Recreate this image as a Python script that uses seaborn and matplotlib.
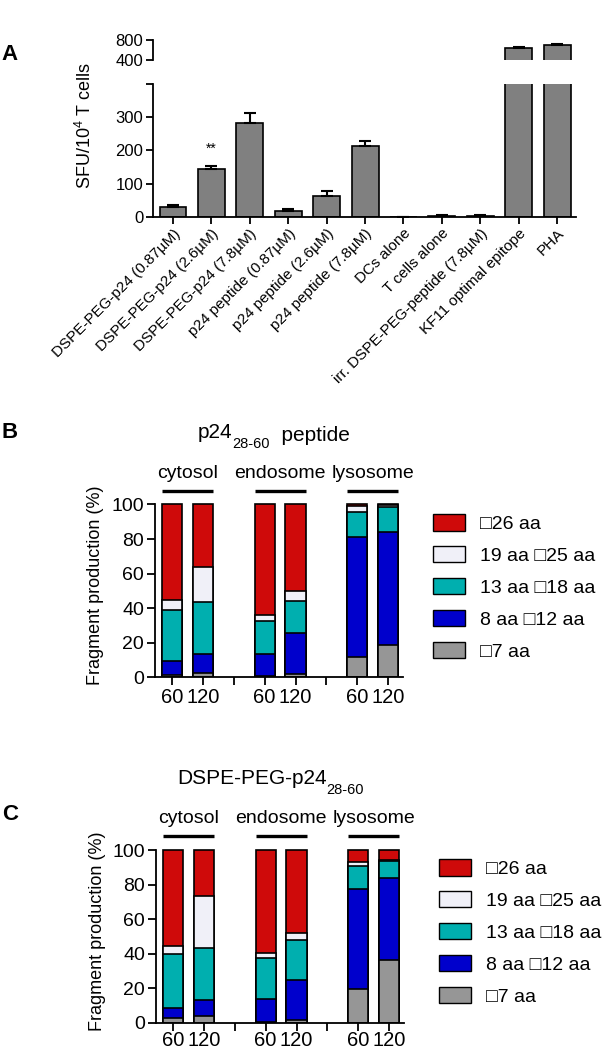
import numpy as np
import pandas as pd
import matplotlib
matplotlib.use("Agg")
import matplotlib.pyplot as plt
import matplotlib.transforms as mtransforms
from matplotlib.patches import Patch
import seaborn as sns

# ---- panel A: IFN-g ELISpot ----
conditions = ["DSPE-PEG-p24 (0.87µM)", "DSPE-PEG-p24 (2.6µM)", "DSPE-PEG-p24 (7.8µM)",
              "p24 peptide (0.87µM)", "p24 peptide (2.6µM)", "p24 peptide (7.8µM)",
              "DCs alone", "T cells alone", "irr. DSPE-PEG-peptide (7.8µM)",
              "KF11 optimal epitope", "PHA"]
sfu_mean = [30, 144, 283, 18, 61, 212, 0, 1, 1, 645, 695]
sfu_sem = [4, 10, 30, 5, 16, 17, 0, 3, 3, 25, 18]

# ---- panels B and C: fragment production ----
compartments = ["cytosol", "endosome", "lysosome"]
time_points = ["60", "120", "60", "120", "60", "120"]
bar_pos = [0, 1, 3, 4, 6, 7]

fragment_labels = ["\u25a126 aa", "19 aa \u25a125 aa", "13 aa \u25a118 aa", "8 aa \u25a112 aa", "\u25a17 aa"]
fragment_colors = ["#CF0A0A", "#F0F0F8", "#00AFAF", "#0000CC", "#969696"]

# p24 28-60 peptide (%), bars: cyt60, cyt120, endo60, endo120, lyso60, lyso120
pep_ge26 = [55.3, 36.1, 63.9, 50.0, 0.9, 0.6]
pep_19_25 = [5.6, 20.6, 3.3, 5.7, 3.7, 0.9]
pep_13_18 = [29.8, 29.6, 19.6, 18.5, 14.3, 14.3]
pep_8_12 = [7.8, 11.0, 12.2, 23.9, 69.3, 65.3]
pep_le7 = [1.5, 2.7, 1.0, 1.9, 11.8, 18.9]

# DSPE-PEG-p24 28-60 (%)
lip_ge26 = [55.4, 26.4, 59.9, 48.2, 6.7, 5.8]
lip_19_25 = [4.8, 30.4, 2.8, 4.0, 2.3, 0.5]
lip_13_18 = [31.0, 29.8, 23.5, 22.9, 13.4, 9.7]
lip_8_12 = [6.3, 9.7, 13.4, 23.4, 57.9, 47.6]
lip_le7 = [2.5, 3.7, 0.4, 1.5, 19.7, 36.4]

W, H = 603, 1050
def fx(x):
    return x / W
def fy(y):
    return 1 - y / H

sns.set_style("ticks")
plt.rcParams['font.family'] = ['Liberation Sans', 'DejaVu Sans']
plt.rcParams['axes.linewidth'] = 1.3
plt.rcParams['xtick.major.width'] = 1.3
plt.rcParams['ytick.major.width'] = 1.3
plt.rcParams['xtick.color'] = 'black'
plt.rcParams['ytick.color'] = 'black'
plt.rcParams['axes.edgecolor'] = 'black'
plt.rcParams['text.color'] = 'black'
plt.rcParams['axes.labelcolor'] = 'black'

fig = plt.figure(figsize=(W / 100, H / 100), dpi=100)

# ---------------- panel A ----------------
axA_top = fig.add_axes([fx(153), fy(60), 423 / W, 20 / H])
axA = fig.add_axes([fx(153), fy(216.7), 423 / W, 132.7 / H])

for ax in (axA, axA_top):
    sns.barplot(x=conditions, y=sfu_mean, color="#808080", saturation=1,
                edgecolor="black", linewidth=1.2, width=0.7, errorbar=None, ax=ax)
    ax.errorbar(np.arange(len(sfu_mean)), sfu_mean,
                yerr=[np.zeros(len(sfu_sem)), sfu_sem], fmt="none",
                ecolor="black", elinewidth=1.5, capsize=4.5, capthick=1.5)
    ax.set_xlim(-0.52, 10.49)
    sns.despine(ax=ax)

axA.set_ylim(0, 400)
axA.set_yticks([0, 100, 200, 300, 400])
axA.set_yticklabels(["0", "100", "200", "300", ""])
axA.tick_params(axis="y", labelsize=12, length=5, pad=2)
axA.tick_params(axis="x", length=5, pad=2)
axA.set_xticks(range(len(conditions)))
axA.set_xticklabels(conditions, rotation=45, ha="right", va="top",
                    rotation_mode="anchor", fontsize=11)
axA.set_ylabel("")

axA_top.set_ylim(400, 800)
axA_top.set_yticks([400, 800])
axA_top.set_yticklabels(["400", "800"])
axA_top.tick_params(axis="y", labelsize=12, length=5, pad=2)
axA_top.spines["bottom"].set_visible(False)
axA_top.set_xticks([])
axA_top.set_xlabel("")
axA_top.set_ylabel("")

axA.text(1, 185, "**", ha="center", va="bottom", fontsize=10)
fig.text(fx(85), fy(125), "SFU/10$^{\\mathregular{4}}$ T cells", rotation=90,
         ha="center", va="center", fontsize=13)
fig.text(fx(9), fy(55), "A", ha="center", va="center", fontsize=16, fontweight="bold")


# ---------------- panels B / C ----------------
def fragment_panel(ax, series, title_main, title_sub, title_tail, title_y, letter, letter_y,
                   ylabel_xy, xpad):
    df = pd.DataFrame({"pos": bar_pos})
    # cumulative tops, bottom class (<=7) first
    cum = np.cumsum(np.array(series[::-1]), axis=0)  # gray, blue, teal, white, red
    tops = cum[::-1]  # red (total) first ... gray last
    for top, color in zip(tops, fragment_colors):
        df["top"] = top
        sns.barplot(data=df, x="pos", y="top", native_scale=True, width=0.65,
                    color=color, saturation=1, edgecolor="black", linewidth=1.2,
                    errorbar=None, ax=ax)
    ax.set_xlim(-0.55, 7.48)
    ax.set_ylim(0, 101)
    ax.spines["left"].set_bounds(0, 100)
    sns.despine(ax=ax)
    ax.set_yticks([0, 20, 40, 60, 80, 100])
    ax.set_yticklabels(["0", "20", "40", "60", "80", "100"])
    ax.set_xticks([0, 1, 2, 3, 4, 5, 6, 7])
    ax.set_xticklabels(["60", "120", "", "60", "120", "", "60", "120"])
    ax.tick_params(axis="y", labelsize=14, length=6, pad=2)
    ax.tick_params(axis="x", labelsize=14.5, length=5.5, pad=xpad)
    ax.set_xlabel("")
    ax.set_ylabel("")

    # compartment headers with bars
    trans = mtransforms.blended_transform_factory(ax.transData, ax.transAxes)
    for i, name in enumerate(compartments):
        left = bar_pos[2 * i] - 0.325
        right = bar_pos[2 * i + 1] + 0.325
        ax.plot([left, right], [1.068, 1.068], color="black", lw=2.4,
                transform=trans, clip_on=False, solid_capstyle="butt")
        ax.text((left + right) / 2, 1.17, name, transform=trans, ha="center",
                va="center", fontsize=14)

    t1 = fig.text(fx(title_main[0]), fy(title_y), title_main[1], ha="left",
                  va="baseline", fontsize=15)
    t2 = ax.annotate(title_sub, xy=(1, 0), xycoords=t1, xytext=(0, -4),
                     textcoords="offset points", ha="left", va="baseline", fontsize=10.5)
    if title_tail:
        ax.annotate(title_tail, xy=(1, 4 / 10.5), xycoords=t2, xytext=(0, 0),
                    textcoords="offset points", ha="left", va="bottom", fontsize=15)

    fig.text(fx(ylabel_xy[0]), fy(ylabel_xy[1]), "Fragment production (%)",
             rotation=90, ha="center", va="center", fontsize=13)
    fig.text(fx(10), fy(letter_y), letter, ha="center", va="center",
             fontsize=16, fontweight="bold")


axB = fig.add_axes([fx(155), fy(677.3), 248 / W, 174.6 / H])
fragment_panel(axB, [pep_ge26, pep_19_25, pep_13_18, pep_8_12, pep_le7],
               (198, "p24"), "28-60", "  peptide", 438, "B", 433, (95, 585), 2)

axC = fig.add_axes([fx(156), fy(1022.7), 248 / W, 174.4 / H])
fragment_panel(axC, [lip_ge26, lip_19_25, lip_13_18, lip_8_12, lip_le7],
               (177, "DSPE-PEG-p24"), "28-60", "", 784, "C", 814, (97, 931), 0.3)

handles = [Patch(facecolor=c, edgecolor="black", linewidth=1) for c in fragment_colors]
for x0, y0 in [(433, 514), (439, 859)]:
    fig.legend(handles, fragment_labels, loc="upper left",
               bbox_to_anchor=(fx(x0), fy(y0)), frameon=False, fontsize=14,
               handlelength=1.65, handleheight=0.93, labelspacing=0.67,
               handletextpad=0.77, borderpad=0, borderaxespad=0)

fig.savefig("out.png", dpi=100)
